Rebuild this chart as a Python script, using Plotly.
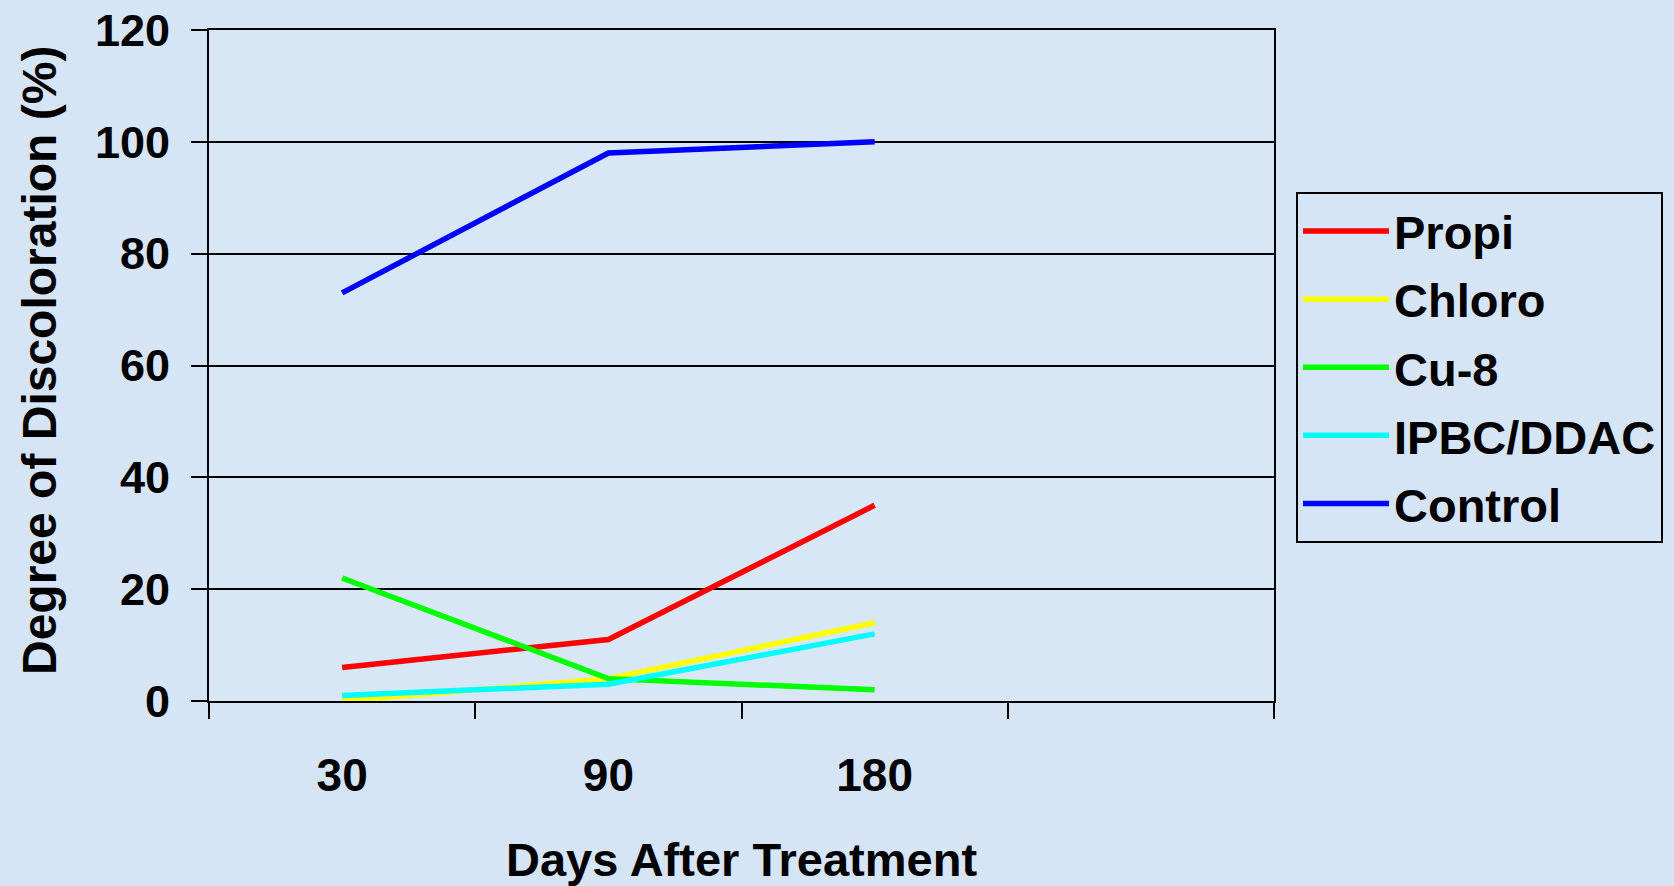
import plotly.graph_objects as go

days = ["30", "90", "180"]
series_names = ["Propi", "Chloro", "Cu-8", "IPBC/DDAC", "Control"]
propi = [6, 11, 35]
chloro = [0, 4, 14]
cu8 = [22, 4, 2]
ipbc = [1, 3, 12]
control = [73, 98, 100]
colors = ["#ff0000", "#ffff00", "#00ff00", "#00ffff", "#0000ff"]
y_ticks = [0, 20, 40, 60, 80, 100, 120]

values = [propi, chloro, cu8, ipbc, control]
xpos = list(range(len(days)))

FONT = "Liberation Sans, Arial, sans-serif"

fig = go.Figure()
for name, vals, col in zip(series_names, values, colors):
    fig.add_trace(go.Scatter(
        x=xpos, y=vals, mode="lines", name=name,
        line=dict(color=col, width=5.5),
        legendgroup=name,
    ))

fig.update_layout(
    width=1674, height=886,
    margin=dict(l=209, r=400, t=30, b=185, autoexpand=False),
    paper_bgcolor="#d6e5f5",
    plot_bgcolor="#d8e7f6",
    font=dict(family=FONT, color="black", size=44),
    showlegend=True,
    legend=dict(
        x=(1296 - 209) / 1065, y=(701 - 192) / 671, xanchor="left", yanchor="top",
        bordercolor="black", borderwidth=2, bgcolor="rgba(0,0,0,0)",
        font=dict(family=FONT, size=47, color="black", weight="bold"),
        tracegroupgap=4, itemwidth=86,
    ),
    xaxis=dict(
        range=[-0.5, 3.5], automargin=False,
        tickmode="array", tickvals=xpos, ticktext=days,
        ticks="", showgrid=False, zeroline=False,
        showline=True, linecolor="black", linewidth=2, mirror=True,
        tickfont=dict(family=FONT, size=46, color="black", weight="bold"),
        ticklabelstandoff=33,
        minor=dict(tickmode="array", tickvals=[-0.5, 0.5, 1.5, 2.5, 3.5],
                   ticks="outside", ticklen=16, tickwidth=2, tickcolor="black",
                   showgrid=False),
    ),
    yaxis=dict(
        range=[0, 120], automargin=False,
        tickmode="array", tickvals=y_ticks,
        ticks="outside", ticklen=16, tickwidth=2, tickcolor="black",
        showgrid=True, gridcolor="black", gridwidth=2,
        zeroline=False,
        showline=True, linecolor="black", linewidth=2, mirror=True,
        tickfont=dict(family=FONT, size=45, color="black", weight="bold"),
        ticklabelstandoff=12,
    ),
    annotations=[
        dict(text="Degree of Discoloration (%)", xref="paper", yref="paper",
             x=(39 - 209) / 1065, y=(701 - 361) / 671, xanchor="center", yanchor="middle",
             textangle=-90, showarrow=False,
             font=dict(family=FONT, size=48, color="black", weight="bold")),
        dict(text="Days After Treatment", xref="paper", yref="paper",
             x=0.5, y=(701 - 859) / 671, xanchor="center", yanchor="middle",
             showarrow=False,
             font=dict(family=FONT, size=47, color="black", weight="bold")),
    ],
)

fig.write_html("out.html")
